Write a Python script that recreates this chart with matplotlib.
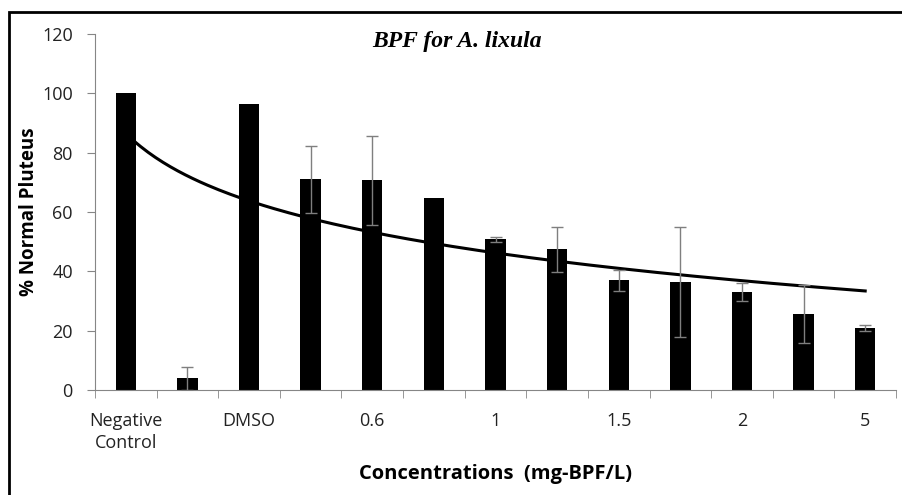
import numpy as np
import matplotlib
matplotlib.use("Agg")
import matplotlib.pyplot as plt
from matplotlib.patches import Rectangle

# bar labels (only every other category is labelled on the chart)
tick_labels = ["Negative\nControl", "", "DMSO", "", "0.6", "", "1", "", "1.5", "", "2", "", "5"]
normal_pct = [100, 4.0, 96.3, 71.0, 70.7, 64.7, 50.8, 47.4, 37.0, 36.3, 32.9, 25.5, 21.0]
err_pct = [0, 3.9, 0, 11.3, 15.0, 0, 0.9, 7.6, 3.6, 18.5, 3.0, 9.8, 1.0]

title = "BPF for A. lixula"
xlabel = "Concentrations  (mg-BPF/L)"
ylabel = "% Normal Pluteus"

px = 1 / 100
fig = plt.figure(figsize=(903 * px, 495 * px), dpi=100)
ax = fig.add_axes([95 / 903, 105 / 495, 801 / 903, 356 / 495])

x = np.arange(len(normal_pct))
ax.bar(x, normal_pct, width=0.33, color="black", zorder=2)

# error bars only where there is one
has_err = np.array(err_pct) > 0
ax.errorbar(x[has_err], np.array(normal_pct)[has_err], yerr=np.array(err_pct)[has_err],
            fmt="none", ecolor="#7f7f7f", elinewidth=1, capsize=4.5, capthick=1, zorder=4)

# logarithmic trendline (Excel style), fitted on category index 1..n
idx = x + 1
a, b = np.polyfit(np.log(idx), normal_pct, 1)
xs = np.linspace(1, len(idx), 200)
ax.plot(xs - 1, a * np.log(xs) + b, color="black", lw=2.2, zorder=3)

ax.set_xlim(-0.5, len(x) - 0.5)
ax.set_ylim(0, 120)
ax.set_yticks(range(0, 121, 20))
ax.set_xticks(x)
ax.set_xticklabels(tick_labels, linespacing=1.25)
ax.set_xticks(np.arange(-0.5, len(x), 1), minor=True)
ax.tick_params(axis="x", which="major", length=0, pad=16)
ax.tick_params(axis="x", which="minor", length=6, color="#868686", direction="out")
ax.tick_params(axis="y", length=6, color="#868686", pad=10)
for lab in ax.get_xticklabels() + ax.get_yticklabels():
    lab.set_family("Open Sans")
    lab.set_fontsize(13)
    lab.set_color("#222222")

for side in ["top", "right"]:
    ax.spines[side].set_visible(False)
for side in ["left", "bottom"]:
    ax.spines[side].set_color("#868686")

ax.set_ylabel(ylabel, fontfamily="Open Sans", fontweight="bold", fontsize=13.5, labelpad=2)
ax.set_xlabel(xlabel, fontfamily="Open Sans", fontweight="bold", fontsize=14.5, labelpad=9)
ax.text(0.452, 0.978, title, transform=ax.transAxes, ha="center", va="center",
        fontfamily="Liberation Serif", fontweight="bold", fontstyle="italic", fontsize=17)

# outer chart border (cropped on the right and bottom)
fig.patches.append(Rectangle((9 / 903, -0.1), 1.2, (495 - 12) / 495 + 0.1, transform=fig.transFigure,
                             fill=False, edgecolor="black", lw=2))

fig.savefig("out.png", dpi=100)
